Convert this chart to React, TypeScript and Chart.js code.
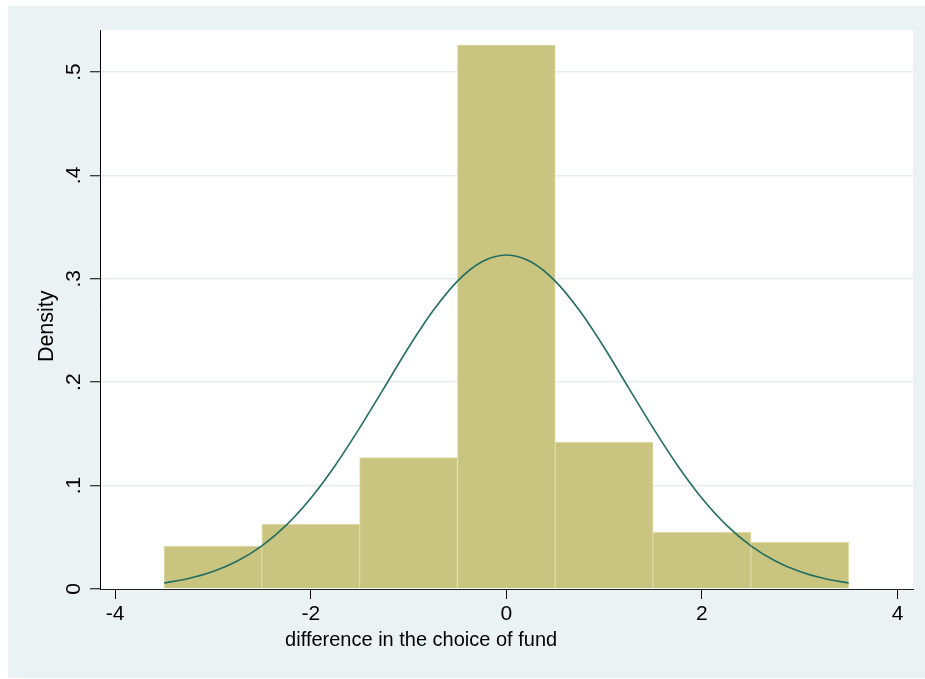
import React, { useEffect, useRef } from 'react';
import { Chart, registerables } from 'chart.js';

Chart.register(...registerables);

// ---- data ----
const binCenters = [-3, -2, -1, 0, 1, 2, 3];
const binDensity = [0.0416, 0.0626, 0.127, 0.526, 0.142, 0.0548, 0.0452];

const curveX = [
  -3.5, -3.25, -3, -2.75, -2.5, -2.25, -2, -1.75, -1.5, -1.25, -1, -0.75, -0.5, -0.25, 0,
  0.25, 0.5, 0.75, 1, 1.25, 1.5, 1.75, 2, 2.25, 2.5, 2.75, 3, 3.25, 3.5,
];
const curveY = [
  0.0058, 0.0101, 0.0169, 0.0271, 0.0418, 0.0618, 0.0878, 0.1195, 0.1558, 0.1945, 0.2335, 0.2690, 0.2978, 0.3165, 0.323,
  0.3165, 0.2978, 0.2690, 0.2335, 0.1945, 0.1558, 0.1195, 0.0878, 0.0618, 0.0418, 0.0271, 0.0169, 0.0101, 0.0058,
];

const xTicks = [-4, -2, 0, 2, 4];
const xTickLabels = ['-4', '-2', '0', '2', '4'];
const yTicks = [0, 0.1, 0.2, 0.3, 0.4, 0.5];
const yTickLabels = ['0', '.1', '.2', '.3', '.4', '.5'];
const xTitle = 'difference in the choice of fund';
const yTitle = 'Density';

const FAMILY = '"Liberation Sans", Arial, Helvetica, sans-serif';

const stataPlugin = {
  id: 'stataDecor',
  beforeDraw(chart: any) {
    const { ctx, chartArea: a } = chart;
    ctx.save();
    ctx.fillStyle = '#ffffff';
    ctx.fillRect(a.left, a.top, a.right - a.left, a.bottom - a.top);
    ctx.restore();
  },
  afterDraw(chart: any) {
    const { ctx, chartArea: a, scales } = chart;
    ctx.save();
    ctx.fillStyle = '#000000';
    ctx.font = '21px ' + FAMILY;
    // y tick labels (rotated)
    yTicks.forEach((v, i) => {
      const py = scales.y.getPixelForValue(v);
      ctx.save();
      ctx.translate(a.left - 20, py);
      ctx.rotate(-Math.PI / 2);
      ctx.textAlign = 'center';
      ctx.textBaseline = 'alphabetic';
      ctx.fillText(yTickLabels[i], 0, 0);
      ctx.restore();
    });
    // x tick labels
    xTicks.forEach((v, i) => {
      const px = scales.x.getPixelForValue(v);
      ctx.textAlign = 'center';
      ctx.textBaseline = 'alphabetic';
      ctx.fillText(xTickLabels[i], px, a.bottom + 31);
    });
    // x title
    ctx.font = '20px ' + FAMILY;
    ctx.textAlign = 'center';
    ctx.fillText(xTitle, a.left + (a.right - a.left) * 0.395, a.bottom + 57);
    // y title
    ctx.font = '21.5px ' + FAMILY;
    ctx.save();
    ctx.translate(a.left - 47, a.top + (a.bottom - a.top) * 0.53);
    ctx.rotate(-Math.PI / 2);
    ctx.textAlign = 'center';
    ctx.fillText(yTitle, 0, 0);
    ctx.restore();
    ctx.restore();
  },
};

export default function App() {
  const canvasRef = useRef<HTMLCanvasElement | null>(null);

  useEffect(() => {
    if (!canvasRef.current) return;
    const chart = new Chart(canvasRef.current, {
      type: 'bar',
      data: {
        datasets: [
          {
            type: 'line',
            data: curveX.map((x, i) => ({ x, y: curveY[i] })),
            borderColor: '#226E62',
            borderWidth: 1.6,
            pointRadius: 0,
            cubicInterpolationMode: 'monotone',
            fill: false,
            order: 1,
          } as any,
          {
            type: 'bar',
            data: binCenters.map((x, i) => ({ x, y: binDensity[i] })),
            backgroundColor: '#C9C47F',
            borderColor: '#DEDBA8',
            borderWidth: 1,
            barPercentage: 1,
            categoryPercentage: 1,
            order: 2,
          } as any,
        ],
      },
      options: {
        animation: false,
        responsive: false,
        maintainAspectRatio: false,
        devicePixelRatio: 1,
        layout: { padding: { left: 0, top: 24, right: 12, bottom: 0 } },
        plugins: {
          legend: { display: false },
          tooltip: { enabled: false },
        },
        scales: {
          x: {
            type: 'linear',
            offset: false,
            min: -4.155,
            max: 4.158,
            afterBuildTicks: (s: any) => {
              s.ticks = xTicks.map((v) => ({ value: v }));
            },
            afterFit: (s: any) => {
              s.height = 89;
            },
            ticks: { display: false },
            grid: {
              display: true,
              offset: false,
              drawOnChartArea: false,
              drawTicks: true,
              tickLength: 10,
              tickColor: '#000000',
              tickWidth: 1,
            },
            border: { display: true, color: '#222222', width: 1 },
          },
          y: {
            type: 'linear',
            min: 0,
            max: 0.5406,
            afterBuildTicks: (s: any) => {
              s.ticks = yTicks.map((v) => ({ value: v }));
            },
            afterFit: (s: any) => {
              s.width = 92;
            },
            ticks: { display: false },
            grid: {
              display: true,
              drawOnChartArea: true,
              drawTicks: true,
              tickLength: 10,
              color: (c: any) => (c.tick && c.tick.value === 0 ? 'rgba(0,0,0,0)' : '#E4ECF0'),
              lineWidth: 1.5,
              tickColor: '#000000',
              tickWidth: 1,
            },
            border: { display: true, color: '#000000', width: 1 },
          },
        },
      } as any,
      plugins: [stataPlugin],
    });
    return () => chart.destroy();
  }, []);

  return (
    <div
      style={{
        position: 'absolute',
        left: 8,
        top: 6,
        width: 917,
        height: 672,
        background: '#EAF2F3',
      }}
    >
      <canvas ref={canvasRef} width={917} height={672} style={{ display: 'block', width: 917, height: 672 }} />
    </div>
  );
}
